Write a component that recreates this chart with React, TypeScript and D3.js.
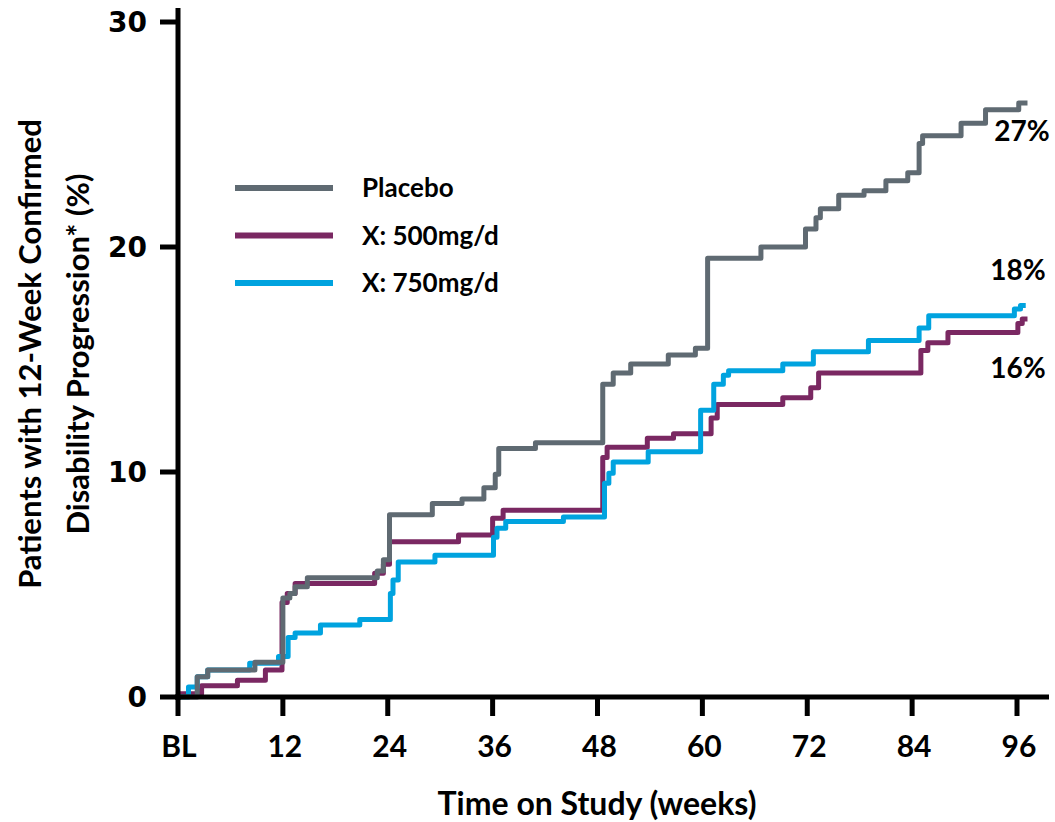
import React from "react";
import * as d3 from "d3";

const xTickValues = [0, 12, 24, 36, 48, 60, 72, 84, 96];
const xTickLabels = ["BL", "12", "24", "36", "48", "60", "72", "84", "96"];
const yTickValues = [0, 10, 20, 30];

const seriesNames = ["Placebo", "X: 500mg/d", "X: 750mg/d"];
const seriesColors = ["#5f6a72", "#7a2862", "#00a3df"];
const endLabels = ["27%", "16%", "18%"];

const placebo: [number, number][] = [
  [0, 0], [2.2, 0.9], [3.4, 1.2], [8.8, 1.55], [12, 4.4], [12.8, 4.6], [13.4, 4.9], [14.8, 5.3],
  [22.8, 5.6], [23.5, 6.1], [24.2, 8.1], [29.1, 8.6], [32.5, 8.8], [35, 9.3], [36.3, 9.9],
  [36.7, 11.05], [40.9, 11.3], [48.6, 13.9], [49.8, 14.4], [51.8, 14.8], [56.1, 15.2],
  [59.2, 15.5], [60.6, 19.5], [66.7, 20.0], [71.8, 20.8], [73, 21.3], [73.5, 21.7],
  [75.6, 22.3], [78.5, 22.5], [81, 22.95], [83.5, 23.3], [84.8, 24.6], [85.2, 24.95],
  [89.6, 25.5], [92.4, 26.1], [96.2, 26.4], [97.2, 26.4],
];

const dose500: [number, number][] = [
  [0, 0.15], [2.7, 0.5], [6.8, 0.75], [10, 1.2], [11.9, 4.2], [12.5, 4.6], [13.4, 5.05],
  [22.5, 5.5], [23.5, 5.9], [24.2, 6.9], [32.1, 7.2], [36, 7.95], [37.2, 8.3], [48.6, 10.65],
  [49.1, 11.1], [53.7, 11.5], [56.7, 11.7], [61, 12.4], [61.7, 13.0], [69.2, 13.3],
  [72.4, 13.75], [73.3, 14.4], [85, 15.4], [85.8, 15.75], [88.1, 16.2], [96.1, 16.6],
  [96.6, 16.8], [97.2, 16.8],
];

const dose750: [number, number][] = [
  [0, 0], [1.2, 0.45], [2.2, 0.9], [3.4, 1.2], [8.2, 1.5], [11.5, 1.8], [12.6, 2.65],
  [13.4, 2.85], [16.3, 3.2], [20.8, 3.45], [24.3, 4.6], [24.6, 5.2], [25.2, 6.0], [29.4, 6.3],
  [36.1, 7.1], [36.5, 7.5], [37.5, 7.8], [44.1, 8.0], [48.8, 9.5], [49.3, 9.95], [49.8, 10.45],
  [53.8, 10.9], [59.8, 12.75], [61.3, 13.9], [62.4, 14.3], [63, 14.5], [69.2, 14.8],
  [72.7, 15.35], [79, 15.85], [84.8, 16.4], [85.9, 16.95], [95.7, 17.25], [96.4, 17.4], [97, 17.4],
];

const W = 1055;
const H = 822;

export default function App() {
  const x = d3.scaleLinear().domain([0, 96]).range([178, 1017]);
  const y = d3.scaleLinear().domain([0, 30]).range([697, 22]);
  const line = d3
    .line<[number, number]>()
    .x((d) => x(d[0]))
    .y((d) => y(d[1]))
    .curve(d3.curveStepAfter);

  const series = [placebo, dose500, dose750];
  const drawOrder = [1, 2, 0];
  const labelFont = "Lato, 'Open Sans', sans-serif";

  return (
    <svg
      width={W}
      height={H}
      style={{ position: "absolute", left: 0, top: 0, background: "#fff" }}
    >
      {/* lines */}
      {drawOrder.map((i) => (
        <path
          key={i}
          d={line(series[i]) || ""}
          fill="none"
          stroke={seriesColors[i]}
          strokeWidth={5}
          strokeLinejoin="round"
        />
      ))}

      {/* axes */}
      <line x1={178} x2={178} y1={8} y2={700} stroke="#000" strokeWidth={5} />
      <line x1={175} x2={1049} y1={697} y2={697} stroke="#000" strokeWidth={5} />
      {yTickValues.map((v) => (
        <g key={v}>
          <line x1={160} x2={178} y1={y(v)} y2={y(v)} stroke="#000" strokeWidth={5} />
          <text
            x={147}
            y={y(v)}
            dy="0.36em"
            textAnchor="end"
            fontFamily="'DejaVu Sans', sans-serif"
            fontWeight="bold"
            fontSize={28}
          >
            {v}
          </text>
        </g>
      ))}
      {xTickValues.map((v, i) => (
        <g key={v}>
          <line x1={x(v)} x2={x(v)} y1={697} y2={716} stroke="#000" strokeWidth={5} />
          <text
            x={x(v) + (i === 0 ? 1 : 2)}
            y={757}
            textAnchor="middle"
            fontFamily={labelFont}
            fontWeight="bold"
            fontSize={30}
          >
            {xTickLabels[i]}
          </text>
        </g>
      ))}

      {/* axis titles */}
      <text
        x={597}
        y={815}
        textAnchor="middle"
        fontFamily={labelFont}
        fontWeight="bold"
        fontSize={32}
      >
        Time on Study (weeks)
      </text>
      <g transform="translate(30,354) rotate(-90)">
        <text
          x={0}
          y={0}
          dy="0.36em"
          textAnchor="middle"
          fontFamily={labelFont}
          fontWeight="bold"
          fontSize={31}
        >
          Patients with 12-Week Confirmed
        </text>
        <text
          x={0}
          y={48}
          dy="0.36em"
          textAnchor="middle"
          fontFamily={labelFont}
          fontWeight="bold"
          fontSize={31}
        >
          Disability Progression* (%)
        </text>
      </g>

      {/* legend */}
      {seriesNames.map((n, i) => (
        <g key={n}>
          <line
            x1={235}
            x2={333}
            y1={188 + i * 47.5}
            y2={188 + i * 47.5}
            stroke={seriesColors[i]}
            strokeWidth={6}
          />
          <text
            x={362}
            y={188 + i * 47.5}
            dy="0.36em"
            fontFamily={labelFont}
            fontWeight="bold"
            fontSize={26}
          >
            {n}
          </text>
        </g>
      ))}

      {/* end labels */}
      <text x={1022} y={131} dy="0.36em" textAnchor="middle" fontFamily={labelFont} fontWeight="bold" fontSize={28}>
        {endLabels[0]}
      </text>
      <text x={1018} y={368} dy="0.36em" textAnchor="middle" fontFamily={labelFont} fontWeight="bold" fontSize={28}>
        {endLabels[1]}
      </text>
      <text x={1018} y={270} dy="0.36em" textAnchor="middle" fontFamily={labelFont} fontWeight="bold" fontSize={28}>
        {endLabels[2]}
      </text>
    </svg>
  );
}
